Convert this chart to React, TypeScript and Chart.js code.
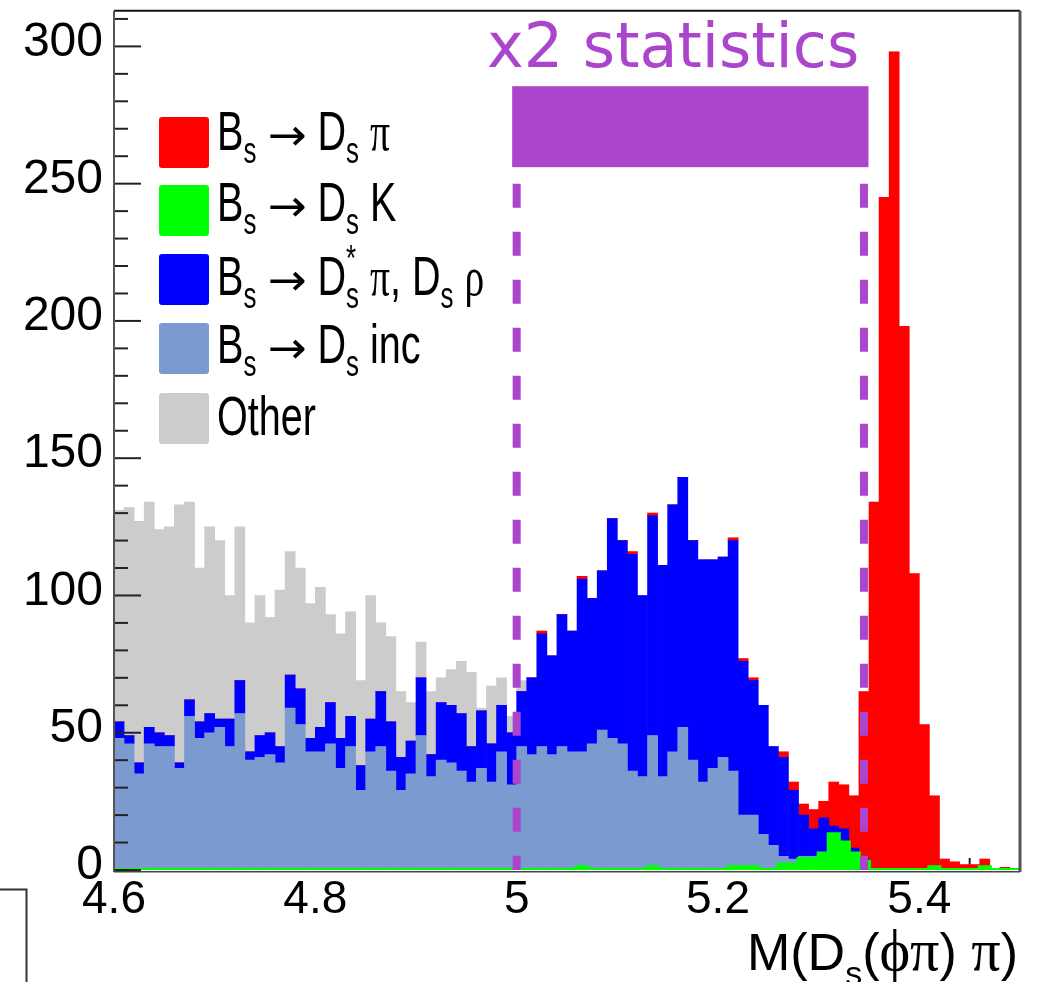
import { useEffect, useRef } from 'react';
import { Chart, registerables } from 'chart.js';

Chart.register(...registerables);

// ---- binning (categories) ----
const binLow = 4.6;
const binWidth = 0.01;
const nBins = 90;
const binCenters = Array.from({ length: nBins }, (_, i) => +(binLow + binWidth * (i + 0.5)).toFixed(4));
const binEdges = Array.from({ length: nBins + 1 }, (_, i) => +(binLow + binWidth * i).toFixed(4));

// ---- series values (events per bin) ----
const dsK = [
  0, 0, 0, 0, 0, 0, 0, 0, 0, 0,
  0, 0, 0, 0, 0, 0, 0, 0, 0, 0,
  0, 0, 0, 0, 0, 0, 0, 0, 0, 0,
  0, 0, 0, 0, 0, 0, 0, 0, 0, 0,
  0, 0, 0, 0, 0, 0, 1, 0, 0, 0,
  0, 0, 0, 1, 0, 0, 0, 0, 0, 0,
  0, 1, 1, 1, 0, 0, 2, 2, 4, 4,
  6, 13, 10, 6, 3, 0, 0, 0, 0, 0,
  0, 1, 0, 0, 0, 0, 1, 0, 0, 0,
];
const dsInc = [
  48, 46, 35, 46, 45, 45, 37, 56, 48, 50,
  52, 45, 57, 40, 41, 42, 39, 59, 53, 43,
  43, 46, 37, 45, 29, 43, 45, 36, 29, 35,
  49, 34, 40, 39, 36, 32, 37, 32, 43, 31,
  45, 42, 45, 42, 45, 43, 42, 46, 51, 48,
  46, 36, 34, 48, 34, 43, 52, 40, 32, 37,
  41, 35, 19, 19, 13, 9, 3, 2, 1, 1,
  0, 0, 0, 0, 0, 0, 0, 0, 0, 0,
  0, 0, 0, 0, 0, 0, 0, 0, 0, 0,
];
const dsStarPiRho = [
  6, 3, 4, 6, 5, 4, 2, 6, 6, 7,
  3, 10, 12, 3, 8, 8, 6, 12, 13, 5,
  9, 15, 11, 11, 9, 12, 20, 18, 12, 12,
  21, 8, 21, 21, 21, 13, 21, 14, 17, 19,
  20, 28, 41, 36, 48, 44, 63, 53, 58, 80,
  74, 79, 66, 80, 77, 90, 91, 80, 81, 76,
  73, 84, 56, 49, 47, 36, 36, 25, 15, 10,
  13, 3, 5, 2, 1, 0, 0, 0, 0, 0,
  0, 0, 0, 0, 0, 0, 0, 0, 0, 0,
];
const dsPi = [
  0, 0, 0, 0, 0, 0, 0, 0, 0, 0,
  0, 0, 0, 0, 0, 0, 0, 0, 0, 0,
  0, 0, 0, 0, 0, 0, 0, 0, 0, 0,
  0, 0, 0, 0, 0, 0, 0, 0, 0, 0,
  0, 0, 1, 0, 0, 0, 1, 0, 0, 0,
  0, 1, 0, 1, 0, 0, 0, 0, 0, 0,
  0, 1, 1, 1, 0, 0, 2, 3, 4, 7,
  6, 16, 16, 19, 61, 134, 245, 298, 198, 108,
  53, 26, 4, 3, 2, 2, 3, 0, 1, 0,
];
const other = [
  77, 83, 88, 82, 74, 76, 94, 72, 56, 68,
  65, 45, 56, 47, 51, 42, 57, 45, 44, 49,
  51, 32, 38, 38, 31, 45, 25, 31, 24, 14,
  13, 23, 9, 13, 19, 27, 1, 21, 10, 6,
  4, 0, 0, 0, 0, 0, 0, 0, 0, 0,
  0, 0, 0, 0, 0, 0, 0, 0, 0, 0,
  0, 0, 0, 0, 0, 0, 0, 0, 0, 0,
  0, 0, 0, 0, 0, 0, 0, 0, 0, 0,
  0, 0, 0, 0, 0, 0, 0, 0, 0, 0,
];

// ---- labels ----
const legendNames = [
  'B_{s} → D_{s} π',
  'B_{s} → D_{s} K',
  'B_{s} → D^{*}_{s} π, D_{s} ρ',
  'B_{s} → D_{s} inc',
  'Other',
];
const xTickValues = [4.6, 4.8, 5.0, 5.2, 5.4];
const xTickLabels = ['4.6', '4.8', '5', '5.2', '5.4'];
const yTickValues = [0, 50, 100, 150, 200, 250, 300];
const yTickLabels = ['0', '50', '100', '150', '200', '250', '300'];
const xTitle = 'M(D_{s}(ϕπ) π)';
const regionLabel = 'x2 statistics';
const regionLines = [5.0, 5.345];
const regionLineTop = 250;
const regionBox = [256, 285.5];
const xMinorStep = 0.05;
const yMinorStep = 10;
const yMinorMax = 310;

// ---- styles ----
const cRed = '#FF0000';
const cGreen = '#00FF00';
const cBlue = '#0000FF';
const cInc = '#7B9AD0';
const cGray = '#CCCCCC';
const cPurple = '#AB45CB';
const legendColors = [cRed, cGreen, cBlue, cInc, cGray];

function drawLatex(ctx: any, text: string, x: number, y: number, o: any) {
  const tokens: any[] = [];
  let i = 0;
  while (i < text.length) {
    const c = text[i];
    if (c === '_' || c === '^') {
      let content = '';
      if (text[i + 1] === '{') {
        const j = text.indexOf('}', i + 2);
        content = text.slice(i + 2, j);
        i = j + 1;
      } else {
        content = text[i + 1];
        i += 2;
      }
      tokens.push({ t: content, mode: c === '_' ? 1 : 2 });
    } else {
      tokens.push({ t: c, mode: 0 });
      i++;
    }
  }
  const greek = /[\u0370-\u03FF]/;
  const arrow = /[\u2190-\u21FF]/;
  const fontFor = (tok: any) => {
    const base = tok.mode ? o.subSize : o.size;
    if (arrow.test(tok.t)) return `${base * (o.arrowScale || 1)}px "DejaVu Sans", sans-serif`;
    if (greek.test(tok.t)) return `${base * (o.greekScale || 1)}px "Liberation Serif", "DejaVu Serif", serif`;
    return `${base}px "Liberation Sans", Arial, sans-serif`;
  };
  ctx.save();
  const items: any[] = [];
  let cur = 0;
  let prev: any = null;
  for (const tok of tokens) {
    ctx.font = fontFor(tok);
    const stretch = arrow.test(tok.t) ? (o.arrowStretch || 1) : 1;
    const w = ctx.measureText(tok.t).width * stretch;
    let px;
    if (tok.mode && prev && prev.mode !== tok.mode) {
      px = prev.start;
      cur = Math.max(prev.start + prev.w, px + w);
      prev = null;
    } else {
      px = cur;
      cur += w;
      prev = tok.mode ? { start: px, w, mode: tok.mode } : null;
    }
    items.push({ tok, px, stretch });
  }
  const total = cur * o.sx;
  const x0 = o.align === 'right' ? x - total : x;
  ctx.translate(x0, y);
  ctx.scale(o.sx, 1);
  ctx.fillStyle = o.color;
  ctx.textBaseline = 'alphabetic';
  ctx.textAlign = 'left';
  for (const it of items) {
    ctx.font = fontFor(it.tok);
    let dy = it.tok.mode === 1 ? o.subDy : it.tok.mode === 2 ? o.supDy : 0;
    if (arrow.test(it.tok.t)) dy += o.arrowDy || 0;
    if (it.stretch !== 1) {
      ctx.save();
      ctx.translate(it.px, dy);
      ctx.scale(it.stretch, 1);
      ctx.fillText(it.tok.t, 0, 0);
      ctx.restore();
    } else {
      ctx.fillText(it.tok.t, it.px, dy);
    }
  }
  ctx.restore();
}

const rootPlugin = {
  id: 'rootStyle',
  beforeDatasetsDraw(chart: any) {
    const { ctx, chartArea: a, scales } = chart;
    const xs = scales.x;
    ctx.save();
    ctx.strokeStyle = '#222';
    ctx.lineWidth = 2;
    const n = Math.round((binEdges[nBins] - binLow) / xMinorStep);
    for (let k = 0; k <= n; k++) {
      const v = binLow + k * xMinorStep;
      const major = k % 4 === 0;
      const px = xs.getPixelForValue(v);
      ctx.beginPath();
      ctx.moveTo(px, a.bottom);
      ctx.lineTo(px, a.bottom - (major ? 24 : 12));
      ctx.stroke();
    }
    ctx.restore();
  },
  afterDatasetsDraw(chart: any) {
    const { ctx, chartArea: a, scales } = chart;
    const xs = scales.x;
    const ys = scales.y;
    ctx.save();
    // dashed region lines
    ctx.strokeStyle = cPurple;
    ctx.lineWidth = 8;
    ctx.setLineDash([24, 24]);
    for (const v of regionLines) {
      const px = xs.getPixelForValue(v);
      ctx.beginPath();
      ctx.moveTo(px, ys.getPixelForValue(regionLineTop));
      ctx.lineTo(px, ys.getPixelForValue(0));
      ctx.stroke();
    }
    ctx.setLineDash([]);
    // region box
    const bx0 = xs.getPixelForValue(regionLines[0]) - 4.5;
    const bx1 = xs.getPixelForValue(regionLines[1]) + 4.5;
    const by0 = ys.getPixelForValue(regionBox[1]);
    const by1 = ys.getPixelForValue(regionBox[0]);
    ctx.fillStyle = cPurple;
    ctx.fillRect(bx0, by0, bx1 - bx0, by1 - by0);
    // region label
    ctx.font = '62px "DejaVu Sans", sans-serif';
    ctx.textBaseline = 'alphabetic';
    ctx.textAlign = 'left';
    ctx.fillText(regionLabel, 487, 67);

    // y ticks (inward)
    ctx.strokeStyle = '#222';
    ctx.lineWidth = 2;
    for (let v = 0; v <= yMinorMax; v += yMinorStep) {
      const py = ys.getPixelForValue(v);
      const len = v % 50 === 0 ? 27 : 14;
      ctx.beginPath();
      ctx.moveTo(a.left, py);
      ctx.lineTo(a.left + len, py);
      ctx.stroke();
    }
    // frame
    ctx.strokeStyle = '#111';
    ctx.lineWidth = 2;
    ctx.beginPath();
    ctx.moveTo(a.left, a.top);
    ctx.lineTo(a.right, a.top);
    ctx.stroke();
    ctx.strokeStyle = '#555';
    ctx.lineWidth = 3;
    ctx.beginPath();
    ctx.moveTo(a.right, a.top);
    ctx.lineTo(a.right, a.bottom + 2);
    ctx.stroke();
    ctx.lineWidth = 2;
    ctx.strokeStyle = '#555';
    ctx.beginPath();
    ctx.moveTo(a.left, a.top);
    ctx.lineTo(a.left, a.bottom + 2);
    ctx.stroke();
    ctx.strokeStyle = '#444';
    ctx.lineWidth = 1.5;
    ctx.beginPath();
    ctx.moveTo(a.left, a.bottom + 1.75);
    ctx.lineTo(a.right, a.bottom + 1.75);
    ctx.stroke();

    // legend
    const sqTops = [117, 185, 254, 323, 393];
    const baselines = [150, 221, 295, 363, 435];
    for (let k = 0; k < legendNames.length; k++) {
      ctx.fillStyle = legendColors[k];
      ctx.beginPath();
      if (ctx.roundRect) ctx.roundRect(159, sqTops[k], 50, 51, 3);
      else ctx.rect(159, sqTops[k], 50, 51);
      ctx.fill();
      drawLatex(ctx, legendNames[k], 217, baselines[k], {
        size: 55, subSize: 36, subDy: 13, supDy: -24, sx: 0.72, color: '#000', align: 'left',
        arrowScale: 0.8, arrowStretch: 1.47, arrowDy: 0,
      });
    }
    // x-axis title
    drawLatex(ctx, xTitle, 1018, 970, {
      size: 52, subSize: 34, subDy: 15, supDy: -20, sx: 1, color: '#000', align: 'right',
      greekScale: 1.12,
    });
    // bracket of neighbouring pad
    ctx.strokeStyle = '#333';
    ctx.lineWidth = 2;
    ctx.beginPath();
    ctx.moveTo(0, 889.5);
    ctx.lineTo(26.5, 889.5);
    ctx.lineTo(26.5, 982);
    ctx.stroke();
    ctx.restore();
  },
};

export default function App() {
  const ref = useRef<HTMLCanvasElement | null>(null);
  useEffect(() => {
    if (!ref.current) return;
    const mk = (label: string, vals: number[], color: string) => ({
      type: 'bar' as const,
      label,
      data: binCenters.map((x, i) => ({ x, y: vals[i] })),
      backgroundColor: color,
      borderWidth: 0,
      barPercentage: 1,
      categoryPercentage: 1,
      stack: 'mc',
      order: 1,
    });
    const chart = new Chart(ref.current, {
      type: 'bar',
      data: {
        datasets: [
          mk(legendNames[1], dsK, cGreen),
          mk(legendNames[3], dsInc, cInc),
          mk(legendNames[2], dsStarPiRho, cBlue),
          mk(legendNames[0], dsPi, cRed),
          mk(legendNames[4], other, cGray),
          {
            type: 'line' as const,
            label: 'outline',
            data: binEdges.map((x, i) => ({ x, y: dsK[Math.min(i, nBins - 1)] })),
            borderColor: cGreen,
            borderWidth: 4,
            pointRadius: 0,
            fill: false,
            stepped: true,
            stack: 'outline',
            order: 0,
          } as any,
        ],
      },
      options: {
        responsive: false,
        animation: false,
        layout: { padding: { left: 0, right: 22, top: 10.7, bottom: 0 } },
        plugins: { legend: { display: false }, tooltip: { enabled: false } },
        scales: {
          x: {
            type: 'linear',
            min: binLow,
            max: binEdges[nBins],
            offset: false,
            stacked: true,
            grid: { display: false, drawTicks: false, offset: false },
            border: { display: false },
            ticks: {
              autoSkip: false,
              maxRotation: 0,
              color: '#000',
              padding: 7,
              font: { family: '"Liberation Sans", Arial, sans-serif', size: 46, lineHeight: 1 },
              callback: (_v: any, i: number) => xTickLabels[i],
            },
            afterBuildTicks: (s: any) => { s.ticks = xTickValues.map((v) => ({ value: v })); },
            afterFit: (s: any) => {
              s.height = 112;
              s.paddingLeft = 0; s.paddingRight = 0; s.paddingTop = 0; s.paddingBottom = 0;
            },
          },
          y: {
            min: 0,
            max: 313,
            stacked: true,
            grid: { display: false, drawTicks: false },
            border: { display: false },
            ticks: {
              autoSkip: false,
              color: '#000',
              padding: 11,
              labelOffset: -4,
              font: { family: '"Liberation Sans", Arial, sans-serif', size: 48, lineHeight: 0.3 },
              callback: (_v: any, i: number) => yTickLabels[i],
            },
            afterBuildTicks: (s: any) => { s.ticks = yTickValues.map((v) => ({ value: v })); },
            afterFit: (s: any) => {
              s.width = 114;
              s.paddingLeft = 0; s.paddingRight = 0; s.paddingTop = 0; s.paddingBottom = 0;
            },
          },
        },
      } as any,
      plugins: [rootPlugin],
    });
    return () => chart.destroy();
  }, []);
  return (
    <div style={{ position: 'absolute', left: 0, top: 0, width: 1042, height: 982, background: '#fff' }}>
      <canvas ref={ref} width={1042} height={982} style={{ display: 'block' }} />
    </div>
  );
}
